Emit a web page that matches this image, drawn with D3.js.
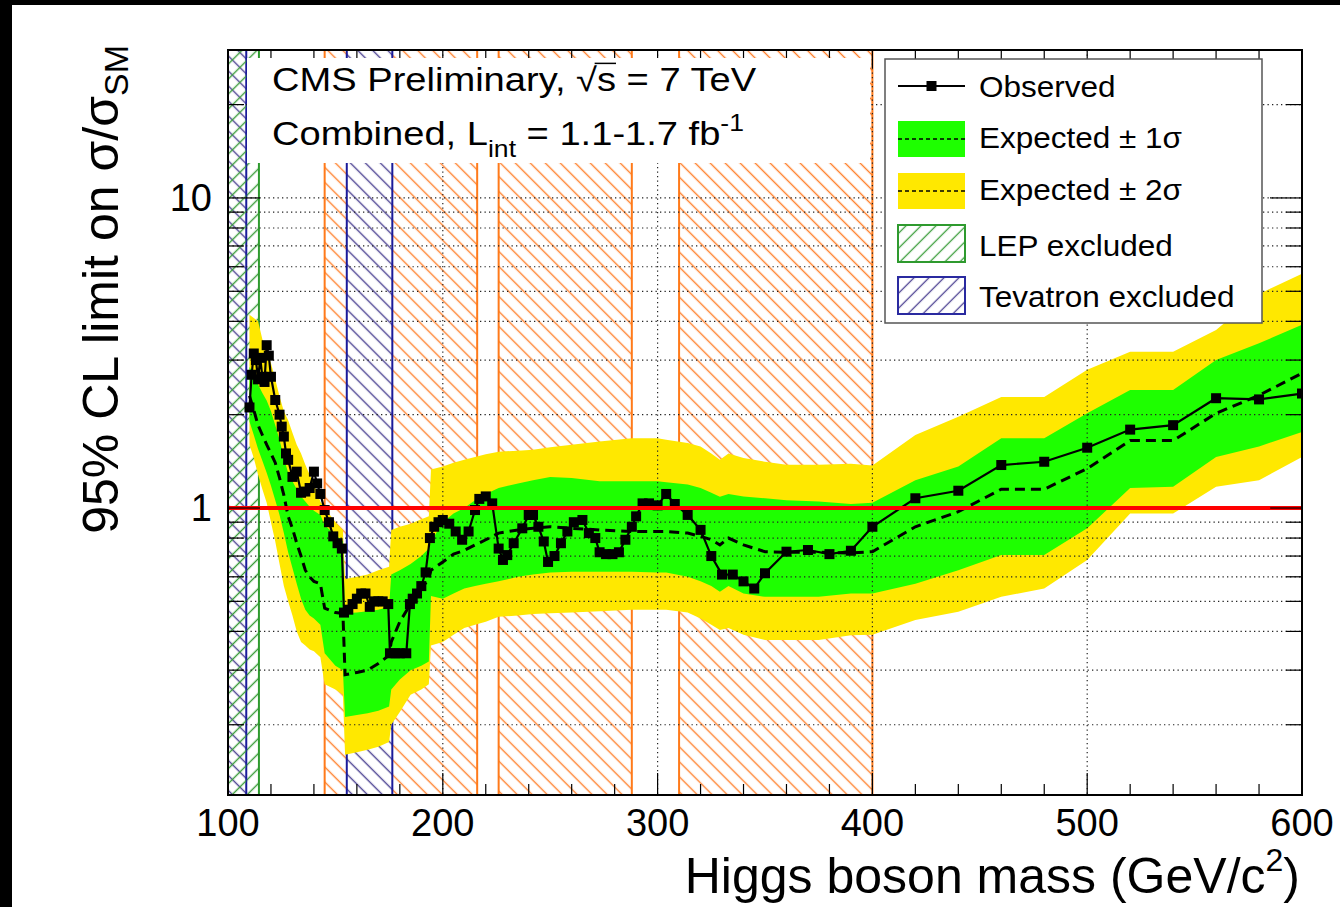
<!DOCTYPE html>
<html><head><meta charset="utf-8">
<script src="https://cdn.jsdelivr.net/npm/d3@7"></script>
<style>
html,body{margin:0;padding:0;background:#fff}
svg{display:block}
text{font-family:"Liberation Sans",Arial,Helvetica,sans-serif;fill:#000}
</style>
</head><body>
<svg id="c" width="1340" height="907"></svg>
<script>
// ---------------- data ----------------
const bandMass  = [110,112,114,116,118,120,122,124,126,128,130,132,134,136,138,140,143,145,150,153.5,154.5,160,165,170,175,176,180,185,190,193.5,194.5,200,205,210,215,220,226,235,242,250,260,273,288,300,304,314,320,325,329,333,340,350,360,375,390,400,420,440,460,480,500,520,540,560,580,600];
const expMedian = [2.3,2.07,1.85,1.72,1.6,1.5,1.4,1.25,1.1,0.94,0.86,0.77,0.70,0.63,0.60,0.58,0.57,0.475,0.46,0.457,0.29,0.295,0.30,0.315,0.335,0.37,0.43,0.49,0.55,0.59,0.63,0.67,0.71,0.73,0.76,0.79,0.83,0.85,0.86,0.87,0.86,0.85,0.84,0.84,0.84,0.83,0.81,0.79,0.76,0.80,0.76,0.723,0.72,0.72,0.716,0.723,0.87,0.973,1.15,1.15,1.34,1.65,1.65,2.02,2.31,2.72];
const expMinus2 = [1.6,1.45,1.28,1.15,1.04,0.9,0.78,0.66,0.56,0.5,0.45,0.40,0.37,0.36,0.35,0.345,0.33,0.27,0.26,0.25,0.16,0.163,0.166,0.17,0.176,0.2,0.22,0.25,0.26,0.27,0.36,0.37,0.39,0.41,0.42,0.43,0.446,0.45,0.455,0.458,0.46,0.465,0.47,0.47,0.47,0.46,0.44,0.42,0.404,0.41,0.39,0.375,0.375,0.375,0.389,0.39,0.435,0.463,0.517,0.55,0.68,0.96,0.96,1.17,1.23,1.46];
const expMinus1 = [1.9,1.72,1.55,1.42,1.3,1.18,1.06,0.95,0.83,0.72,0.64,0.57,0.51,0.47,0.45,0.44,0.42,0.34,0.31,0.30,0.212,0.215,0.218,0.222,0.229,0.26,0.28,0.30,0.31,0.32,0.52,0.51,0.53,0.55,0.56,0.57,0.58,0.60,0.61,0.62,0.623,0.623,0.623,0.62,0.62,0.60,0.58,0.56,0.537,0.56,0.53,0.517,0.517,0.517,0.53,0.53,0.57,0.63,0.705,0.705,0.86,1.16,1.17,1.46,1.58,1.76];
const expPlus1  = [2.85,2.7,2.5,2.35,2.22,2.05,1.85,1.66,1.45,1.3,1.22,1.15,1.09,1.05,1.01,0.98,0.95,0.88,0.82,0.78,0.458,0.46,0.465,0.47,0.48,0.61,0.63,0.66,0.7,0.74,0.78,0.9,0.96,1.0,1.06,1.11,1.16,1.2,1.23,1.26,1.25,1.22,1.22,1.22,1.21,1.19,1.16,1.12,1.087,1.11,1.09,1.075,1.06,1.05,1.03,1.04,1.23,1.36,1.68,1.68,2.02,2.4,2.4,3.0,3.4,3.9];
const expPlus2  = [4.2,4.1,4.0,3.5,3.2,2.93,2.6,2.29,2.05,1.92,1.75,1.6,1.5,1.38,1.28,1.2,1.05,1.0,0.9,0.85,0.59,0.60,0.61,0.63,0.647,0.85,0.87,0.89,0.92,0.94,1.33,1.36,1.40,1.43,1.46,1.49,1.52,1.53,1.54,1.57,1.60,1.64,1.68,1.68,1.66,1.62,1.58,1.50,1.43,1.50,1.45,1.41,1.38,1.38,1.39,1.37,1.72,1.97,2.28,2.28,2.79,3.19,3.19,3.75,4.9,5.7];

const obsMass  = [110,111,112,113,114,115,116,117,118,119,120,122,124,125,126,127,128,130,132,134,136,138,140,141.5,143,145,147,149,151,153,154,156,158,160,162,164,166,168,170,172,174.6,175.4,178,180,183,184.7,186,188,190,192,194,196,198,200,203,206,209,212,215,217,220,223,226,228,230,233,237,240,242,244.5,247,249,252,255,258,261,265,268,271,273,276,279,282,285,288,290,293,296,300,304,308,314,320,325,330,335,340,345,350,360,370,380,390,400,420,440,460,480,500,520,540,560,580,600];
const obsLimit = [2.11,2.69,3.15,3.0,2.6,3.05,2.65,2.55,3.35,3.1,2.65,2.23,2.0,1.83,1.7,1.5,1.43,1.26,1.31,1.12,1.13,1.16,1.31,1.2,1.11,0.985,0.9,0.81,0.77,0.74,0.46,0.47,0.49,0.51,0.53,0.53,0.48,0.5,0.5,0.5,0.49,0.34,0.34,0.34,0.34,0.49,0.51,0.53,0.56,0.62,0.8,0.87,0.9,0.915,0.89,0.84,0.79,0.84,0.985,1.07,1.09,1.035,0.74,0.68,0.705,0.77,0.86,0.95,0.95,0.87,0.78,0.67,0.70,0.77,0.84,0.90,0.915,0.83,0.80,0.72,0.71,0.71,0.72,0.79,0.87,0.94,1.035,1.035,1.02,1.11,1.03,0.95,0.85,0.70,0.61,0.61,0.58,0.55,0.616,0.723,0.732,0.71,0.728,0.87,1.075,1.137,1.376,1.41,1.565,1.79,1.85,2.26,2.24,2.34];

const cmsExcluded = [[145,216],[226,288],[310,400]];
const lepExcluded = [[100,114.4]];
const tevExcluded = [[100,108.5],[155.3,176.5]];

const xTickLabels = [100,200,300,400,500,600];
const yTickLabels = [1,10];

// ---------------- layout ----------------
const svg = d3.select("#c");
const L = 228, R = 1302, T = 50, B = 795;
const x = d3.scaleLinear().domain([100,600]).range([L,R]);
const y = d3.scaleLog().domain([0.1187,30]).range([B,T]);

const COL = {
  orange:"#ff7f2a", orangeLine:"#ff7a1a",
  blueLine:"#1a1a9a", blueHatch:"#4a3f90",
  green:"#3a9d3a", greenLine:"#2e9a2e",
  yellow:"#ffe800", band1:"#1eff00"
};

// background & black strips
svg.append("rect").attr("x",0).attr("y",0).attr("width",1340).attr("height",907).attr("fill","#fff");
svg.append("rect").attr("x",0).attr("y",0).attr("width",1340).attr("height",5).attr("fill","#000");
svg.append("rect").attr("x",0).attr("y",0).attr("width",12).attr("height",907).attr("fill","#000");

// hatch patterns
const defs = svg.append("defs");
function hatch(id, color, dir, sp, w){
  const p = defs.append("pattern").attr("id",id).attr("patternUnits","userSpaceOnUse")
    .attr("width",sp).attr("height",sp)
    .attr("patternTransform", `rotate(${dir==="/"?45:-45})`);
  p.append("line").attr("x1",sp/2).attr("y1",-1).attr("x2",sp/2).attr("y2",sp+1)
    .attr("stroke",color).attr("stroke-width",w);
}
hatch("hOr", COL.orange, "\\", 10.6, 1.4);
hatch("hBl", COL.blueHatch, "\\", 10.6, 1.4);
hatch("hGr", COL.green, "/", 10.6, 1.4);
hatch("hBlL", COL.blueHatch, "/", 10.6, 1.3);
hatch("hGrL", COL.green, "/", 10.6, 1.3);

const clip = defs.append("clipPath").attr("id","plot");
clip.append("rect").attr("x",L).attr("y",T).attr("width",R-L).attr("height",B-T);
const g = svg.append("g").attr("clip-path","url(#plot)");

function region(data, pat, lineCol, bg){
  data.forEach(([a,b])=>{
    if(bg) g.append("rect").attr("x",x(a)).attr("y",T).attr("width",x(b)-x(a)).attr("height",B-T).attr("fill","#fff");
    g.append("rect").attr("x",x(a)).attr("y",T).attr("width",x(b)-x(a)).attr("height",B-T).attr("fill",`url(#${pat})`);
    [a,b].forEach(v=>g.append("line").attr("x1",x(v)).attr("x2",x(v)).attr("y1",T).attr("y2",B)
      .attr("stroke",lineCol).attr("stroke-width",2));
  });
}
region(cmsExcluded, "hOr", COL.orangeLine, false);
region(lepExcluded, "hGr", COL.greenLine, false);
region(tevExcluded, "hBl", COL.blueLine, true);
// LEP hatch again on top of the low Tevatron region (cross-hatch)
g.append("rect").attr("x",x(100)).attr("y",T).attr("width",x(108.5)-x(100)).attr("height",B-T).attr("fill","url(#hGr)");

// bands
const idx = d3.range(bandMass.length);
const area = (lo,hi)=>d3.area().x(i=>x(bandMass[i])).y0(i=>y(lo[i])).y1(i=>y(hi[i]));
g.append("path").attr("d",area(expMinus2,expPlus2)(idx)).attr("fill",COL.yellow);
g.append("path").attr("d",area(expMinus1,expPlus1)(idx)).attr("fill",COL.band1);

// grid
const yGrid = [0.2,0.3,0.4,0.5,0.6,0.7,0.8,0.9,1,2,3,4,5,6,7,8,9,10,20];
g.selectAll(".gy").data(yGrid).enter().append("line")
  .attr("x1",L).attr("x2",R).attr("y1",d=>y(d)).attr("y2",d=>y(d))
  .attr("stroke","#222").attr("stroke-width",1.2).attr("stroke-dasharray","1.3,3.2");
g.selectAll(".gx").data([200,300,400,500]).enter().append("line")
  .attr("x1",d=>x(d)).attr("x2",d=>x(d)).attr("y1",T).attr("y2",B)
  .attr("stroke","#222").attr("stroke-width",1.2).attr("stroke-dasharray","1.3,3.2");

// expected
g.append("path").attr("d",d3.line().x(i=>x(bandMass[i])).y(i=>y(expMedian[i]))(idx))
  .attr("fill","none").attr("stroke","#000").attr("stroke-width",3).attr("stroke-dasharray","10,6");
// observed
const oidx = d3.range(obsMass.length);
g.append("path").attr("d",d3.line().x(i=>x(obsMass[i])).y(i=>y(obsLimit[i]))(oidx))
  .attr("fill","none").attr("stroke","#000").attr("stroke-width",2.2);
g.selectAll(".mk").data(oidx).enter().append("rect")
  .attr("x",i=>x(obsMass[i])-5).attr("y",i=>y(obsLimit[i])-5).attr("width",10).attr("height",10).attr("fill","#000");

// red line at 1
g.append("line").attr("x1",L).attr("x2",R).attr("y1",y(1)).attr("y2",y(1)).attr("stroke","#ff0000").attr("stroke-width",4);

// frame & ticks
const ax = svg.append("g");
ax.append("rect").attr("x",L).attr("y",T).attr("width",R-L).attr("height",B-T).attr("fill","none").attr("stroke","#000").attr("stroke-width",2);
const xMinor = d3.range(120,600,20).filter(v=>v%100!==0);
xMinor.forEach(v=>{
  ax.append("line").attr("x1",x(v)).attr("x2",x(v)).attr("y1",B).attr("y2",B-11).attr("stroke","#000").attr("stroke-width",1.2);
  ax.append("line").attr("x1",x(v)).attr("x2",x(v)).attr("y1",T).attr("y2",T+9).attr("stroke","#000").attr("stroke-width",1.2);
});
xTickLabels.forEach(v=>{
  ax.append("line").attr("x1",x(v)).attr("x2",x(v)).attr("y1",B).attr("y2",B-22).attr("stroke","#000").attr("stroke-width",1.2);
  ax.append("line").attr("x1",x(v)).attr("x2",x(v)).attr("y1",T).attr("y2",T+18).attr("stroke","#000").attr("stroke-width",1.2);
  ax.append("text").attr("x",x(v)).attr("y",836).attr("text-anchor","middle").attr("font-size",38).text(v);
});
const yMinor = [0.2,0.3,0.4,0.5,0.6,0.7,0.8,0.9,2,3,4,5,6,7,8,9,20];
yMinor.forEach(v=>{
  ax.append("line").attr("x1",L).attr("x2",L+16).attr("y1",y(v)).attr("y2",y(v)).attr("stroke","#000").attr("stroke-width",1.2);
  ax.append("line").attr("x1",R).attr("x2",R-16).attr("y1",y(v)).attr("y2",y(v)).attr("stroke","#000").attr("stroke-width",1.2);
});
yTickLabels.forEach(v=>{
  ax.append("line").attr("x1",L).attr("x2",L+32).attr("y1",y(v)).attr("y2",y(v)).attr("stroke","#000").attr("stroke-width",1.2);
  ax.append("line").attr("x1",R).attr("x2",R-32).attr("y1",y(v)).attr("y2",y(v)).attr("stroke","#000").attr("stroke-width",1.2);
  ax.append("text").attr("x",212).attr("y",y(v)+13).attr("text-anchor","end").attr("font-size",38).text(v);
});

// axis titles
const xt = svg.append("text").attr("x",1300).attr("y",893).attr("text-anchor","end").attr("font-size",50);
xt.append("tspan").text("Higgs boson mass (GeV/c");
xt.append("tspan").attr("font-size",32).attr("dy",-22).text("2");
xt.append("tspan").attr("dy",22).text(")");
const yt = svg.append("text").attr("transform","translate(118,45) rotate(-90)").attr("text-anchor","end").attr("font-size",50);
yt.append("tspan").text("95% CL limit on σ/σ");
yt.append("tspan").attr("font-size",34).attr("dy",10).text("SM");

// text box
svg.append("rect").attr("x",247).attr("y",58).attr("width",623).attr("height",105).attr("fill","#fff");
const t1 = svg.append("text").attr("transform","translate(272,91) scale(1.155,1)").attr("font-size",33);
t1.append("tspan").text("CMS Preliminary, ");
t1.append("tspan").attr("id","sq").text("√s");
t1.append("tspan").text(" = 7 TeV");
const t2 = svg.append("text").attr("transform","translate(272,145) scale(1.155,1)").attr("font-size",33);
t2.append("tspan").text("Combined, L");
t2.append("tspan").attr("font-size",23).attr("dy",12).text("int");
t2.append("tspan").attr("dy",-12).text(" = 1.1-1.7 fb");
t2.append("tspan").attr("font-size",23).attr("dy",-14).text("-1");
// overline for sqrt (in text's own coordinates)
{
  const sqNode = document.getElementById("sq");
  const n = sqNode.getNumberOfChars();
  const s0 = sqNode.getExtentOfChar(0), s1 = sqNode.getExtentOfChar(n-1);
  const ox = v => 272 + v*1.155, oy = v => 91 + v;
  svg.append("line").attr("x1",ox(s0.x+s0.width-2)).attr("x2",ox(s1.x+s1.width)).attr("y1",oy(s0.y+2)).attr("y2",oy(s0.y+2))
    .attr("stroke","#000").attr("stroke-width",1.5);
}

// legend
const lg = svg.append("g");
lg.append("rect").attr("x",885).attr("y",59).attr("width",377).attr("height",264).attr("fill","#fff").attr("stroke","#555").attr("stroke-width",1.5);
const lx0 = 898, lx1 = 965, tx = 979;
function ltext(yy, s){ lg.append("text").attr("transform",`translate(${tx},${yy}) scale(1.05,1)`).attr("font-size",30).text(s); }
// observed
lg.append("line").attr("x1",lx0).attr("x2",lx1).attr("y1",86).attr("y2",86).attr("stroke","#000").attr("stroke-width",2);
lg.append("rect").attr("x",(lx0+lx1)/2-5).attr("y",81).attr("width",10).attr("height",10).attr("fill","#000");
ltext(97, "Observed");
// 1 sigma
lg.append("rect").attr("x",lx0).attr("y",121).attr("width",lx1-lx0).attr("height",36).attr("fill",COL.band1);
lg.append("line").attr("x1",lx0).attr("x2",lx1).attr("y1",139).attr("y2",139).attr("stroke","#000").attr("stroke-width",1.5).attr("stroke-dasharray","4,3");
ltext(148, "Expected ± 1σ");
// 2 sigma
lg.append("rect").attr("x",lx0).attr("y",173).attr("width",lx1-lx0).attr("height",36).attr("fill",COL.yellow);
lg.append("line").attr("x1",lx0).attr("x2",lx1).attr("y1",191).attr("y2",191).attr("stroke","#000").attr("stroke-width",1.5).attr("stroke-dasharray","4,3");
ltext(200, "Expected ± 2σ");
// LEP
lg.append("rect").attr("x",lx0).attr("y",225).attr("width",lx1-lx0).attr("height",37).attr("fill","url(#hGrL)").attr("stroke",COL.greenLine).attr("stroke-width",2);
ltext(256, "LEP excluded");
// Tevatron
lg.append("rect").attr("x",lx0).attr("y",277).attr("width",lx1-lx0).attr("height",37).attr("fill","url(#hBlL)").attr("stroke","#2a2aa0").attr("stroke-width",2);
ltext(307, "Tevatron excluded");
</script>
</body></html>
